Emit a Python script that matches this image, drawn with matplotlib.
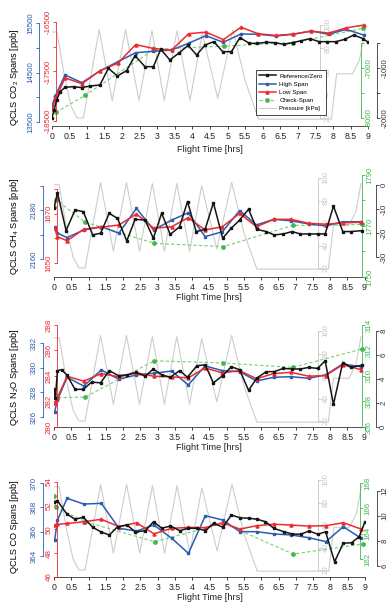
import matplotlib.pyplot as plt
import numpy as np

plt.rcParams['font.family'] = ['Liberation Sans', 'DejaVu Sans']

W, H = 390, 608

# flight pressure profile [kPa] (same flight in every panel)
press_t = [0, 0.15, 0.35, 0.55, 0.72, 0.9, 1.35, 1.72, 2.1, 2.48, 2.85, 3.2, 3.56, 3.93,
           4.28, 4.72, 5.15, 5.5, 5.88, 7.95, 8.1, 8.55, 8.75, 8.9]
press_kpa = [94, 94, 58, 30, 20, 20, 96, 35, 96, 35, 95, 35, 95, 35,
             93, 37, 96, 52, 19, 19, 58, 58, 70, 95]

# times of the high/low span measurements
span_t = [0.02, 0.1, 0.38, 0.86, 1.37, 1.88, 2.39, 2.89, 3.41, 3.89, 4.38, 4.88, 5.38, 5.87,
          6.37, 6.87, 7.38, 7.87, 8.37, 8.89]

# CO2
co2_high = [13844, 14025, 14450, 14294, 14530, 14718, 14900, 14928, 14955, 15090, 15244, 15110,
            15278, 15272, 15237, 15272, 15338, 15272, 15372, 15251]
co2_low = [-18256, -18058, -17629, -17747, -17484, -17332, -16955, -17035, -17068, -16738, -16704,
           -16856, -16605, -16738, -16771, -16744, -16684, -16724, -16619, -16559]
co2_ref_t = [0, 0.07, 0.14, 0.24, 0.38, 0.62, 0.85, 1.09, 1.37, 1.61, 1.87, 2.13, 2.37, 2.65, 2.89,
             3.1, 3.36, 3.63, 3.88, 4.12, 4.36, 4.61, 4.86, 5.11, 5.35, 5.62, 5.84, 6.09, 6.34, 6.6,
             6.85, 7.1, 7.34, 7.6, 7.83, 8.08, 8.33, 8.59, 8.85, 9.0]
co2_ref = [-2007, -1840, -1640, -1473, -1387, -1373, -1393, -1360, -1340, -1007, -1160, -1053, -753,
           -973, -973, -627, -840, -693, -547, -740, -540, -473, -673, -673, -393, -507, -507, -487,
           -493, -527, -493, -453, -413, -473, -473, -473, -427, -340, -413, -487]
co2_chk_t = [0.12, 0.95, 2.91, 4.9, 6.87, 8.85]
co2_chk = [-7887, -7547, -6627, -6560, -6493, -6207]

# CH4
ch4_high = [2173.0, 2170.6, 2168.8, 2171.9, 2173.3, 2170.6, 2180.8, 2171.9, 2176.0, 2179.0, 2169.2,
            2171.2, 2179.9, 2174.0, 2176.3, 2175.7, 2174.4, 2173.6, 2175.3, 2175.3]
ch4_low = [1664.1, 1660.7, 1659.0, 1663.7, 1664.5, 1665.4, 1669.9, 1664.1, 1664.7, 1668.4, 1663.4,
           1664.7, 1670.1, 1664.7, 1667.7, 1667.7, 1666.1, 1665.7, 1666.3, 1666.5]
ch4_ref_t = [0, 0.1, 0.35, 0.61, 0.85, 1.12, 1.35, 1.6, 1.84, 2.11, 2.35, 2.64, 2.88, 3.12, 3.37,
             3.64, 3.87, 4.12, 4.38, 4.62, 4.89, 5.13, 5.38, 5.64, 5.88, 6.15, 6.38, 6.65, 6.9,
             7.14, 7.38, 7.64, 7.86, 8.1, 8.37, 8.61, 8.93]
ch4_ref = [-9.7, -3.2, -19.0, -10.4, -11.1, -20.8, -20.1, -11.8, -13.9, -23.3, -14.3, -14.6, -22.2,
           -11.8, -20.6, -17.4, -6.9, -19.4, -18.5, -7.4, -22.2, -18.1, -14.6, -10.1, -18.5, -19.4,
           -20.8, -20.4, -19.4, -20.4, -20.4, -20.4, -20.4, -8.8, -19.4, -19.4, -19.0]
ch4_chk_t = [0, 0.06, 0.9, 2.91, 4.91, 6.92, 8.93]
ch4_chk = [1777.5, 1780.3, 1771.5, 1763.2, 1761.9, 1770.2, 1770.6]

# N2O
n2o_high = [326.43, 327.38, 329.22, 328.51, 329.81, 329.06, 329.41, 329.54, 329.73, 328.60, 330.14,
            329.76, 329.68, 328.92, 329.22, 329.27, 329.14, 329.41, 330.30, 330.08]
n2o_low = [281.91, 282.30, 283.98, 283.59, 284.19, 283.93, 284.24, 283.98, 283.93, 283.85, 284.63,
           284.24, 284.42, 283.78, 284.19, 284.29, 283.98, 284.03, 284.88, 284.50]
n2o_ref_t = [0, 0.04, 0.1, 0.22, 0.37, 0.61, 0.85, 1.09, 1.35, 1.6, 1.87, 2.11, 2.38, 2.64, 2.88,
             3.12, 3.37, 3.64, 3.87, 4.14, 4.38, 4.62, 4.89, 5.14, 5.38, 5.64, 5.88, 6.15, 6.38,
             6.65, 6.9, 7.14, 7.38, 7.64, 7.86, 8.1, 8.37, 8.61, 8.93]
n2o_ref = [3.18, 2.37, 4.68, 4.76, 4.33, 3.13, 3.13, 3.73, 3.67, 4.68, 4.27, 4.33, 4.55, 4.22, 4.82,
           4.33, 4.14, 4.68, 4.14, 5.09, 5.17, 3.67, 4.27, 5.01, 4.76, 3.05, 4.06, 4.60, 4.60, 4.87,
           4.82, 4.82, 4.95, 4.87, 5.50, 1.88, 5.36, 4.95, 5.14]
n2o_chk_t = [0, 0.08, 0.9, 2.91, 4.91, 6.92, 8.93]
n2o_chk = [308.56, 308.30, 308.35, 311.19, 311.02, 310.67, 312.12]

# CO
co_high = [365.31, 366.96, 368.74, 368.27, 368.33, 366.28, 366.05, 366.55, 365.45, 364.22, 367.31,
           366.96, 366.00, 366.00, 365.81, 365.73, 365.50, 365.18, 366.41, 365.45]
co_low = [50.35, 50.41, 50.49, 50.63, 50.84, 50.22, 50.55, 49.62, 50.08, 50.16, 50.14, 50.55, 50.02,
          50.30, 50.43, 50.35, 50.27, 50.30, 50.55, 50.02]
co_ref_t = [0, 0.1, 0.37, 0.61, 0.85, 1.12, 1.35, 1.6, 1.84, 2.11, 2.35, 2.64, 2.88, 3.12, 3.37,
            3.64, 3.87, 4.14, 4.38, 4.62, 4.89, 5.13, 5.38, 5.64, 5.88, 6.12, 6.36, 6.65, 6.9,
            7.14, 7.38, 7.64, 7.86, 8.12, 8.37, 8.61, 8.83, 9.0]
co_ref = [11.14, 11.22, 10.16, 9.74, 9.90, 9.10, 8.74, 8.48, 9.14, 9.28, 8.74, 8.82, 9.54, 9.02, 9.20,
          8.82, 9.02, 9.02, 8.82, 9.42, 9.10, 10.08, 9.86, 9.82, 9.74, 9.54, 9.02, 8.74, 8.56, 8.54,
          8.80, 8.54, 8.74, 6.34, 7.82, 7.86, 8.34, 9.54]
co_chk_t = [0, 0.06, 0.9, 2.91, 4.91, 6.92, 8.93]
co_chk = [166.97, 166.08, 164.94, 163.37, 164.82, 162.39, 163.18]

BLUE = '#2a5cb3'
RED = '#ec2a2f'
GREEN = '#3fb84d'
GREY = '#cdcdcd'
BLACK = '#151515'
FS = 6.3
FSY = 5.7

fig = plt.figure(figsize=(W / 100, H / 100), dpi=100)


def set_scale(tax, geo, ticks, labels, y_first, y_last, xpix, side, color):
    # ticks[0] sits at pixel row y_first, ticks[-1] at y_last
    x0, x1, ybot, ytop = geo
    slope = (ticks[-1] - ticks[0]) / (y_first - y_last)
    tax.set_ylim(ticks[0] - (ybot - y_first) * slope, ticks[0] + (y_first - ytop) * slope)
    for s in tax.spines.values():
        s.set_visible(False)
    sp = tax.spines[side]
    sp.set_visible(True)
    sp.set_position(('axes', (xpix - x0) / (x1 - x0)))
    sp.set_bounds(ticks[0], ticks[-1])
    sp.set_color(color)
    sp.set_linewidth(0.6)
    if side == 'left':
        tax.yaxis.tick_left()
    else:
        tax.yaxis.tick_right()
    tax.set_yticks(ticks, labels)
    tax.tick_params(axis='y', colors=color, length=2.2, width=0.6, pad=1.2, labelsize=FSY)
    for lab in tax.get_yticklabels():
        lab.set_rotation(90)
        lab.set_va('center')


def draw_panel(geo, scales, ylab, ylab_y, xlab_y, ref_t, ref, high, low, chk_t, chk, legend=False):
    x0, x1, ybot, ytop = geo
    ax = fig.add_axes([x0 / W, 1 - ybot / H, (x1 - x0) / W, (ybot - ytop) / H])
    ax.patch.set_visible(False)
    ax.set_xlim(0, 9)
    xt = np.arange(0, 9.01, 0.5)
    ax.set_xticks(xt, ['%g' % v for v in xt])
    ax.tick_params(axis='x', length=2.2, width=0.6, pad=1.8, labelsize=FS, colors='#222222')
    for k in ['top', 'left', 'right']:
        ax.spines[k].set_visible(False)
    ax.spines['bottom'].set_bounds(0, 9)
    ax.spines['bottom'].set_linewidth(0.6)
    ax.spines['bottom'].set_color('#333333')
    ax.yaxis.set_visible(False)

    tp = ax.twinx()
    set_scale(tp, geo, *scales['press'], 'right', '#c4c4c4')
    lp, = tp.plot(press_t, press_kpa, color=GREY, lw=0.8, label='Pressure [kPa]')

    tg = ax.twinx()
    set_scale(tg, geo, *scales['chk'], 'right', GREEN)
    lg, = tg.plot(chk_t, chk, color='#74cf78', ls=(0, (3, 2)), lw=0.8, marker='o', ms=2.4,
                  mfc=GREEN, mec=GREEN, label='Check-Span')

    tb = ax.twinx()
    set_scale(tb, geo, *scales['high'], 'left', BLUE)
    lb, = tb.plot(span_t, high, color=BLUE, lw=1.1, marker='s', ms=1.8, label='High Span')

    tr = ax.twinx()
    set_scale(tr, geo, *scales['low'], 'left', RED)
    lr, = tr.plot(span_t, low, color=RED, lw=1.1, marker='^', ms=2.2, label='Low Span')

    tk = ax.twinx()
    set_scale(tk, geo, *scales['ref'], 'right', '#333333')
    lk, = tk.plot(ref_t, ref, color=BLACK, lw=1.1, marker='s', ms=2.0, label='Reference/Zero')

    fig.text(15 / W, 1 - ylab_y / H, ylab, rotation=90, ha='center', va='center', fontsize=6.6)
    fig.text((x0 + x1) / 2 / W, 1 - xlab_y / H, 'Flight Time [hrs]', ha='center', va='center',
             fontsize=6.6, color='#222222')

    if legend:
        leg = tk.legend(handles=[lk, lb, lr, lg, lp], loc='upper left',
                        bbox_to_anchor=(253 / W, 1 - 67 / H), bbox_transform=fig.transFigure,
                        fontsize=4.5, handlelength=2.6, handletextpad=0.6, borderpad=0.5,
                        labelspacing=0.45, fancybox=False, framealpha=1, edgecolor='black')
        leg.get_frame().set_linewidth(0.5)


# panel 1: CO2
draw_panel((51.7, 368.3, 126, 15),
           {'high': ([13500, 14000, 14500, 15000, 15500], ['13500', '', '14500', '', '15500'], 122, 23, 39.3),
            'low': ([-18500, -18000, -17500, -17000, -16500], ['-18500', '', '-17500', '', '-16500'], 121, 22, 56.5),
            'press': ([20, 40, 60, 80, 100], ['20', '40', '60', '80', '100'], 118, 25, 319.5),
            'chk': ([-8000, -7500, -7000, -6500], ['-8000', '', '-7000', ''], 118, 43, 361),
            'ref': ([-2000, -1500, -1000, -500], ['-2000', '', '-1000', ''], 118, 43, 376.5)},
           'QCLS CO$_\\mathregular{2}$ Spans [ppb]', 77, 150,
           co2_ref_t, co2_ref, co2_high, co2_low, co2_chk_t, co2_chk, legend=True)

# panel 2: CH4
draw_panel((54, 364.5, 277, 166),
           {'high': ([2160, 2170, 2180, 2190], ['2160', '', '2180', ''], 259, 186, 42.7),
            'low': ([1650, 1660, 1670, 1680], ['1650', '', '1670', ''], 263, 189, 56.7),
            'press': ([20, 40, 60, 80, 100], ['20', '40', '60', '80', '100'], 268, 178, 318),
            'chk': ([1750, 1760, 1770, 1780, 1790], ['1750', '', '1770', '', '1790'], 278, 175, 361.5),
            'ref': ([-30, -20, -10, 0], ['-30', '-20', '-10', '0'], 257, 185, 376)},
           'QCLS CH$_\\mathregular{4}$ Spans [ppb]', 226, 298,
           ch4_ref_t, ch4_ref, ch4_high, ch4_low, ch4_chk_t, ch4_chk)

# panel 3: N2O
draw_panel((54, 364.5, 427, 316),
           {'high': ([326, 328, 330, 332], ['326', '328', '330', '332'], 417, 343, 42.7),
            'low': ([280, 282, 284, 286, 288], ['280', '282', '284', '286', '288'], 428, 325, 57),
            'press': ([20, 40, 60, 80, 100], ['20', '40', '60', '80', '100'], 421, 331, 317.7),
            'chk': ([306, 308, 310, 312, 314], ['306', '308', '310', '312', '314'], 428, 325, 361.5),
            'ref': ([0, 2, 4, 6, 8], ['0', '2', '4', '6', '8'], 429, 331, 375.5)},
           'QCLS N$_\\mathregular{2}$O Spans [ppb]', 377, 448,
           n2o_ref_t, n2o_ref, n2o_high, n2o_low, n2o_chk_t, n2o_chk)

# panel 4: CO
draw_panel((54, 365, 577, 466),
           {'high': ([364, 366, 368, 370], ['364', '366', '368', '370'], 556, 483, 42.7),
            'low': ([46, 48, 50, 52, 54], ['46', '48', '50', '52', '54'], 580, 482, 57.3),
            'press': ([20, 40, 60, 80, 100], ['20', '40', '60', '80', '100'], 570, 480, 317.7),
            'chk': ([162, 164, 166, 168], ['162', '164', '166', '168'], 559, 483, 360),
            'ref': ([6, 8, 10, 12], ['6', '8', '10', '12'], 566, 491, 376.5)},
           'QCLS CO Spans [ppb]', 527, 598,
           co_ref_t, co_ref, co_high, co_low, co_chk_t, co_chk)

fig.savefig('out.png', dpi=100, facecolor='white')
